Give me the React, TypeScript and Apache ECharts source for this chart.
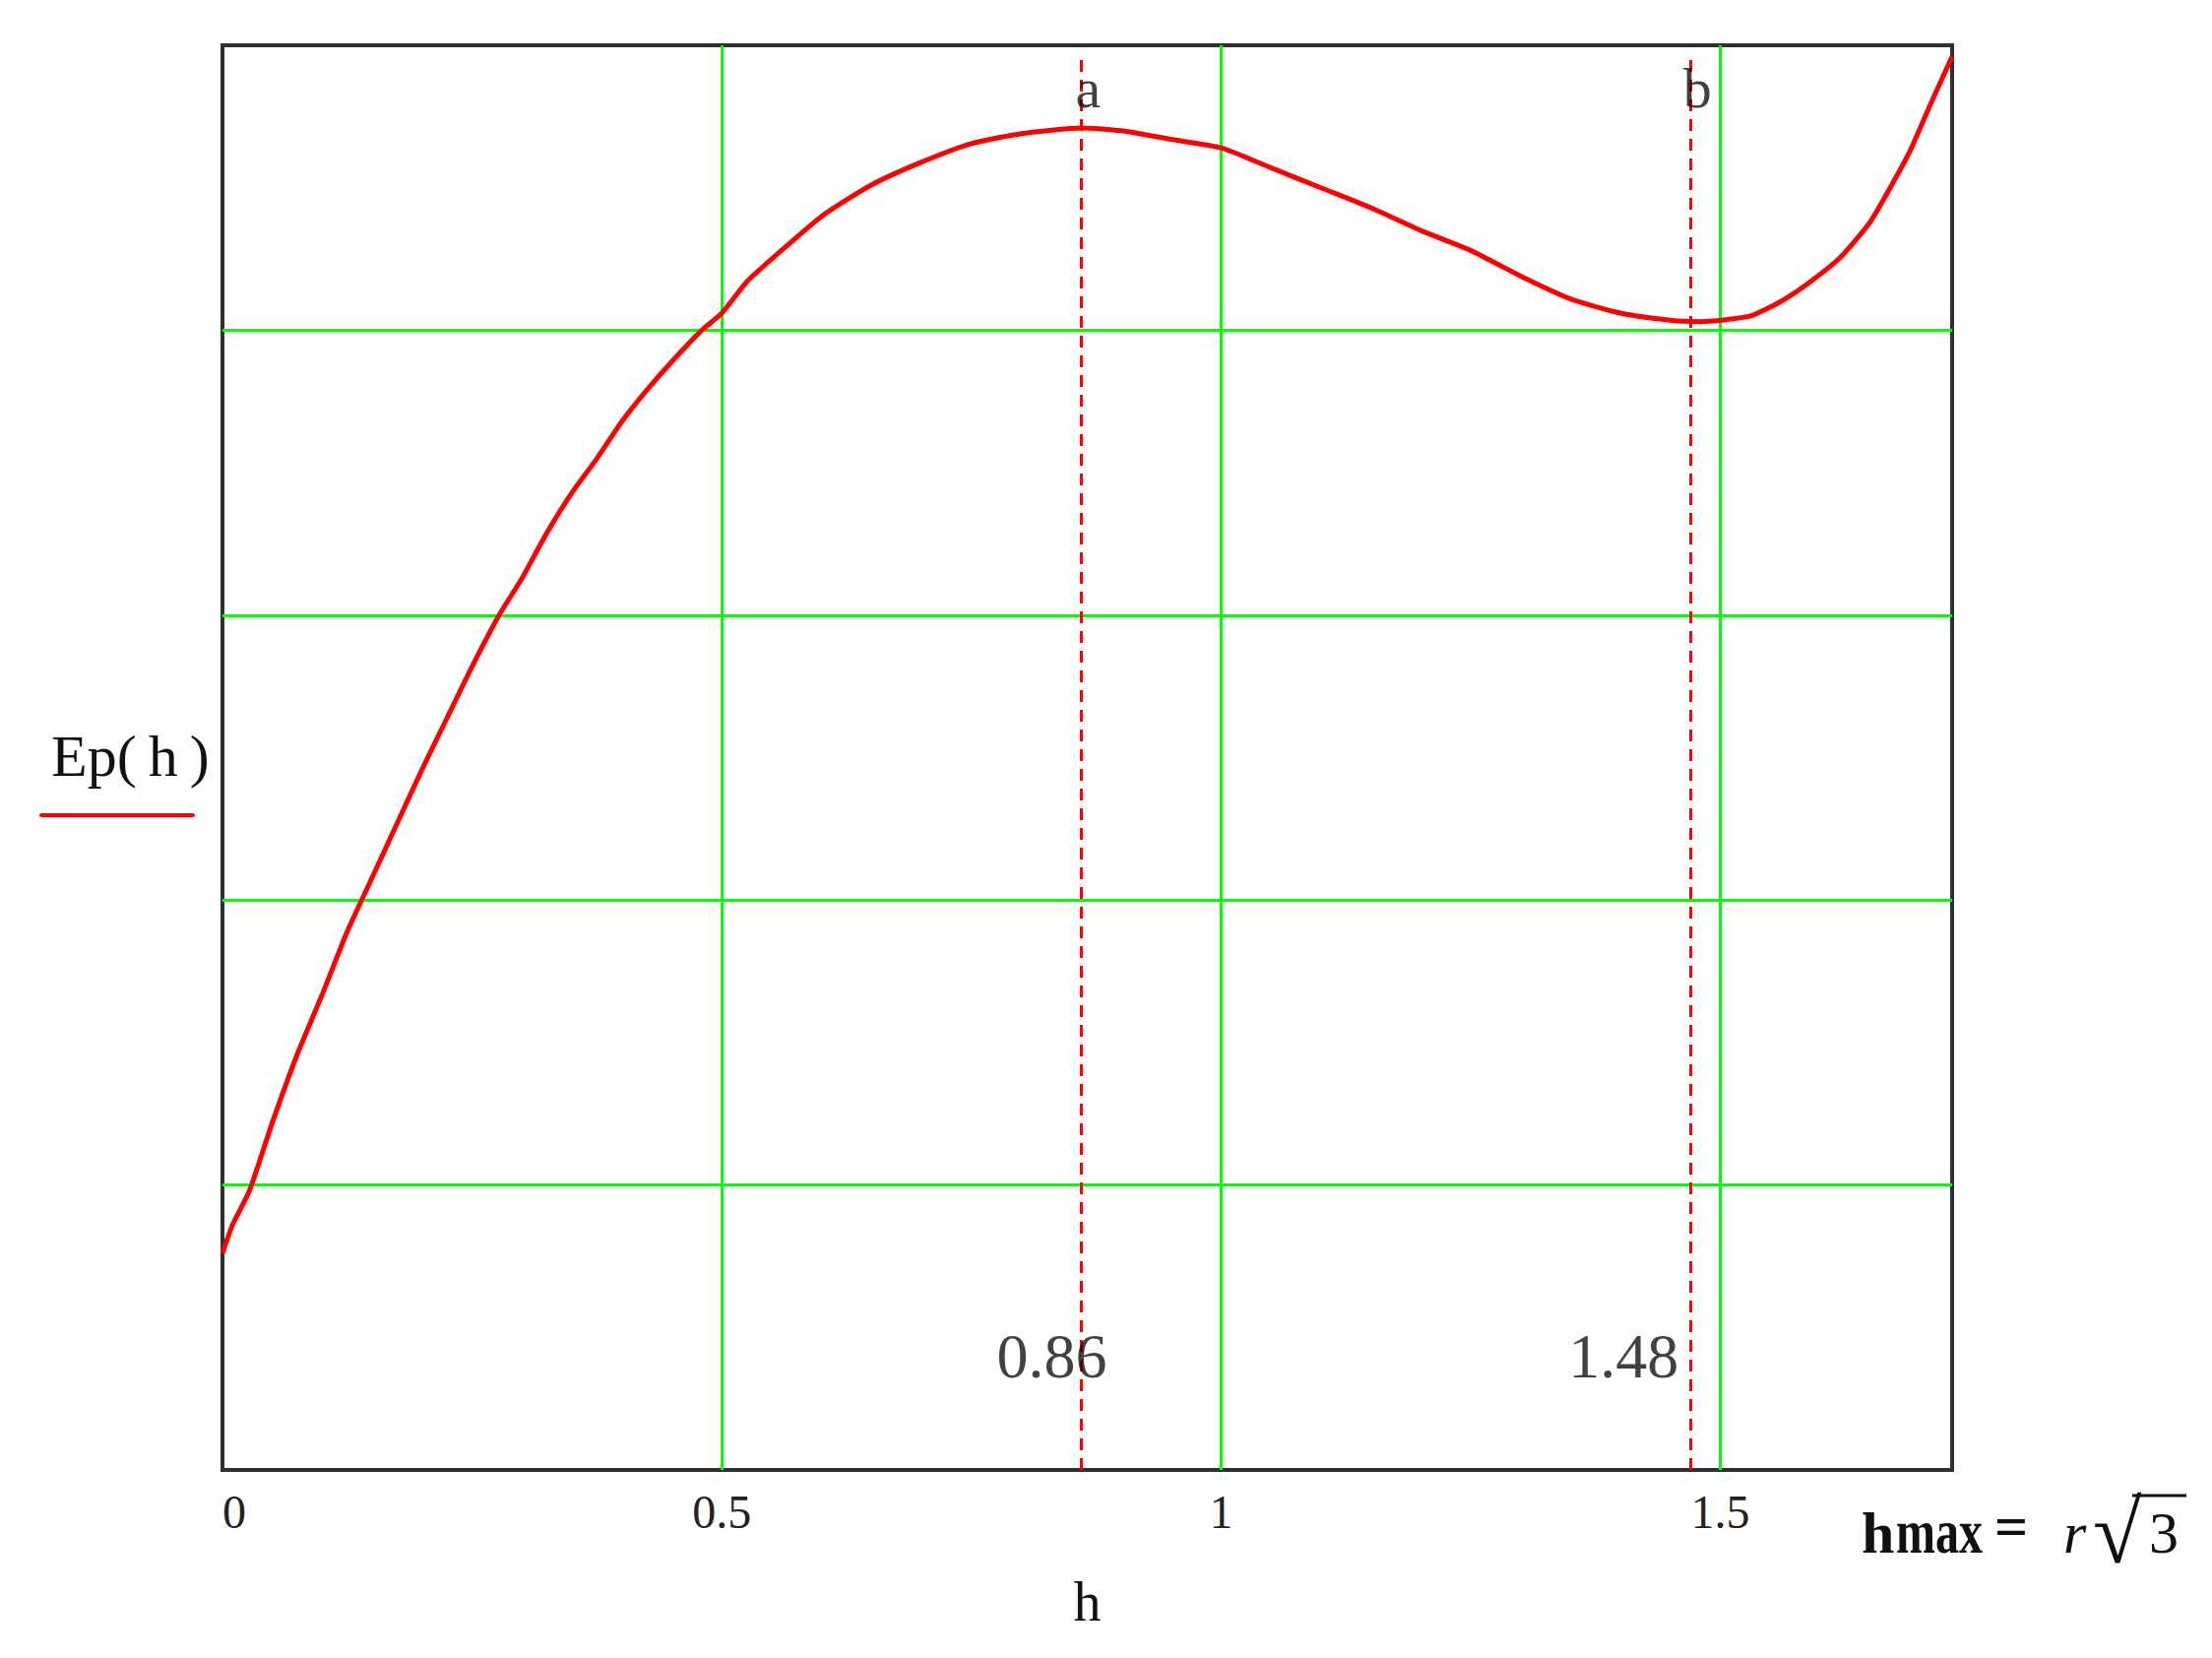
import React, { useEffect, useRef } from "react";
import * as echarts from "echarts";

// h values (x) and Ep(h) values (relative units, 5 grid divisions)
const hValues = [0, 0.01, 0.027, 0.05, 0.075, 0.1, 0.125, 0.15, 0.175, 0.2, 0.225, 0.25, 0.277, 0.3, 0.325, 0.35, 0.375, 0.4, 0.425, 0.45, 0.48, 0.5, 0.525, 0.55, 0.6, 0.65, 0.7, 0.75, 0.8, 0.86, 0.9, 0.95, 1.0, 1.05, 1.1, 1.15, 1.2, 1.25, 1.3, 1.35, 1.4, 1.45, 1.48, 1.5, 1.53, 1.56, 1.59, 1.62, 1.65, 1.67, 1.69, 1.71, 1.732];
const epValues = [0.76, 0.86, 0.98, 1.22, 1.46, 1.67, 1.89, 2.08, 2.27, 2.46, 2.64, 2.82, 3.0, 3.13, 3.29, 3.43, 3.55, 3.68, 3.79, 3.89, 4.0, 4.06, 4.17, 4.25, 4.4, 4.51, 4.59, 4.655, 4.69, 4.71, 4.7, 4.67, 4.64, 4.57, 4.5, 4.43, 4.35, 4.28, 4.19, 4.11, 4.06, 4.035, 4.03, 4.035, 4.05, 4.1, 4.17, 4.255, 4.38, 4.5, 4.63, 4.79, 4.96];

// markers
const markerValues = [0.86, 1.47];
const markerNames = ["a", "b"];
const markerLabels = ["0.86", "1.48"];

// axes
const xMin = 0;
const xMax = Math.sqrt(3);
const xInterval = 0.5;
const yMin = 0;
const yMax = 5;
const yInterval = 1;

const SERIF = "'Liberation Serif', 'Times New Roman', serif";
const GREEN = "#00ff00";
const RED = "#ff0000";

export default function App() {
  const ref = useRef<HTMLDivElement>(null);

  useEffect(() => {
    if (!ref.current) return;
    const chart = echarts.init(ref.current, undefined, { renderer: "svg" });

    const curve = hValues.map((h, i) => [h, epValues[i]]);

    const option: any = {
      animation: false,
      backgroundColor: "#ffffff",
      grid: {
        left: 226,
        top: 46,
        right: 264,
        bottom: 191,
        show: true,
        borderColor: "#303030",
        borderWidth: 4,
        backgroundColor: "transparent",
        containLabel: false,
      },
      xAxis: {
        type: "value",
        min: xMin,
        max: xMax,
        interval: xInterval,
        name: "h",
        nameLocation: "middle",
        nameGap: 106,
        nameTextStyle: { fontFamily: SERIF, fontSize: 56, color: "#111" },
        axisLine: { show: false },
        axisTick: { show: false },
        axisLabel: {
          show: true,
          fontFamily: SERIF,
          fontSize: 48,
          color: "#222",
          margin: 18,
          showMaxLabel: false,
          alignMinLabel: "left",
          formatter: (v: number) => String(v),
        },
        splitLine: {
          show: true,
          showMinLine: false,
          showMaxLine: false,
          lineStyle: { color: GREEN, width: 3 },
        },
      },
      yAxis: {
        type: "value",
        min: yMin,
        max: yMax,
        interval: yInterval,
        axisLine: { show: false },
        axisTick: { show: false },
        axisLabel: { show: false },
        splitLine: {
          show: true,
          showMinLine: false,
          showMaxLine: false,
          lineStyle: { color: GREEN, width: 3 },
        },
      },
      series: [
        {
          type: "line",
          data: curve,
          showSymbol: false,
          smooth: 0.2,
          z: 5,
          lineStyle: { color: RED, width: 5 },
          markLine: {
            silent: true,
            symbol: "none",
            label: { show: false },
            lineStyle: { color: RED, width: 3, type: [12, 8] },
            data: markerValues.map((v) => [
              { coord: [v, yMin] },
              { coord: [v, 4.95] },
            ]),
          },
        },
        {
          type: "scatter",
          symbolSize: 0,
          silent: true,
          z: 6,
          data: markerValues.map((v, i) => ({
            value: [v, 4.85],
            label: {
              show: true,
              position: "inside",
              formatter: markerNames[i],
              offset: [7, 0],
              fontFamily: SERIF,
              fontSize: 58,
              color: "#111",
            },
          })),
        },
        {
          type: "scatter",
          symbolSize: 0,
          silent: true,
          z: 6,
          data: markerValues.map((v, i) => ({
            value: [v, 0.4],
            label: {
              show: true,
              position: "inside",
              formatter: markerLabels[i],
              offset: [i === 0 ? -30 : -68, 0],
              fontFamily: SERIF,
              fontSize: 64,
              color: "#111",
            },
          })),
        },
      ],
      graphic: [
        {
          type: "text",
          x: 52,
          y: 768,
          style: {
            text: "Ep(\u2009h\u2009)",
            fontFamily: SERIF,
            fontSize: 60,
            fill: "#111",
            align: "left",
            verticalAlign: "middle",
          },
        },
        {
          type: "line",
          shape: { x1: 42, y1: 828, x2: 196, y2: 828 },
          style: { stroke: RED, lineWidth: 4, lineCap: "round" },
        },
        {
          type: "text",
          x: 1891,
          y: 1557,
          style: {
            text: "h",
            fontFamily: SERIF,
            fontWeight: "bold",
            fontSize: 60,
            fill: "#111",
            align: "left",
            verticalAlign: "middle",
          },
        },
        {
          type: "text",
          x: 1926,
          y: 1556,
          scaleY: 1.3,
          style: {
            text: "max",
            fontFamily: SERIF,
            fontWeight: "bold",
            fontSize: 48,
            fill: "#111",
            align: "left",
            verticalAlign: "middle",
          },
        },
        {
          type: "text",
          x: 2043,
          y: 1550,
          style: {
            text: "=",
            fontFamily: SERIF,
            fontWeight: "bold",
            fontSize: 60,
            fill: "#111",
            align: "center",
            verticalAlign: "middle",
          },
        },
        {
          type: "text",
          x: 2096,
          y: 1557,
          style: {
            text: "r",
            fontFamily: SERIF,
            fontStyle: "italic",
            fontSize: 60,
            fill: "#111",
            align: "left",
            verticalAlign: "middle",
          },
        },
        {
          type: "text",
          x: 2126,
          y: 1556,
          style: {
            text: "\u221A",
            fontFamily: SERIF,
            fontSize: 90,
            fill: "#111",
            align: "left",
            verticalAlign: "middle",
          },
        },
        {
          type: "text",
          x: 2183,
          y: 1557,
          style: {
            text: "3",
            fontFamily: SERIF,
            fontSize: 60,
            fill: "#111",
            align: "left",
            verticalAlign: "middle",
          },
        },
        {
          type: "line",
          shape: { x1: 2166, y1: 1519, x2: 2221, y2: 1519 },
          style: { stroke: "#111", lineWidth: 3 },
        },
      ],
    };

    chart.setOption(option);
    return () => chart.dispose();
  }, []);

  return (
    <div
      ref={ref}
      style={{ position: "fixed", left: 0, top: 0, width: 2247, height: 1684 }}
    />
  );
}
